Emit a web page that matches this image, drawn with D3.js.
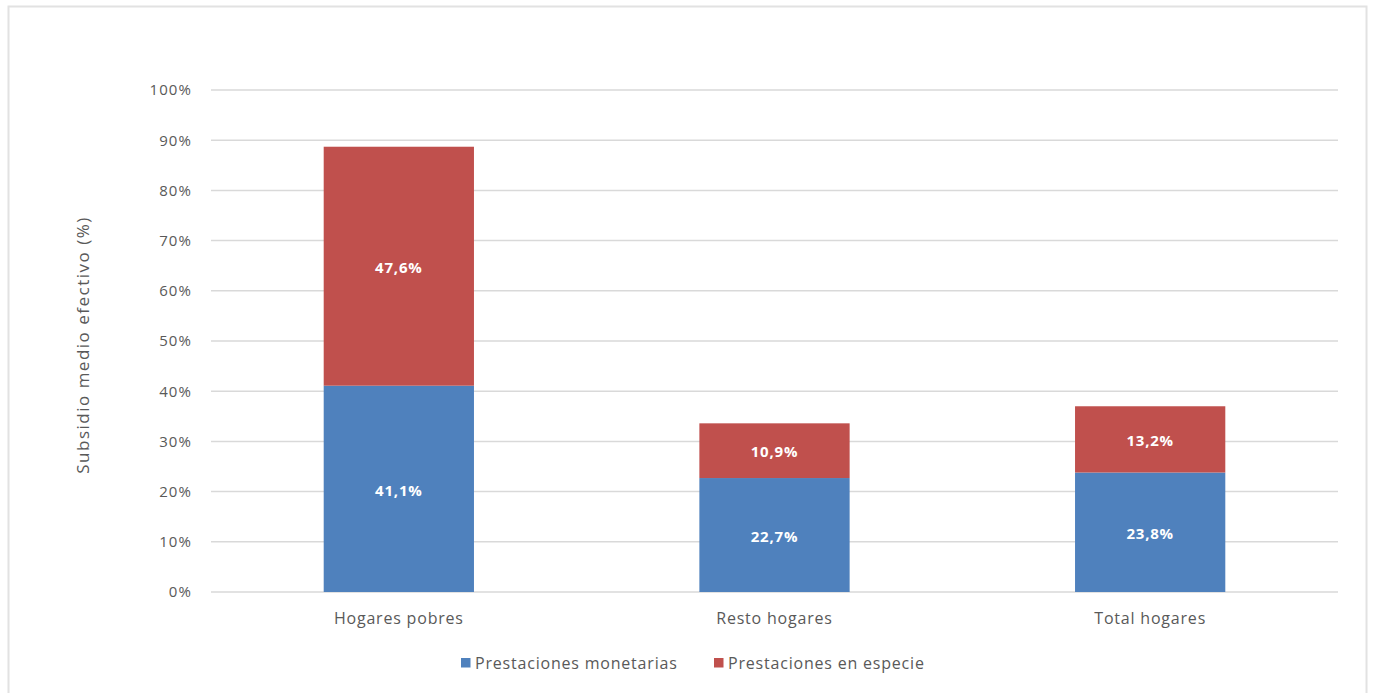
<!DOCTYPE html>
<html>
<head>
<meta charset="utf-8">
<script src="https://cdn.jsdelivr.net/npm/d3@7"></script>
<style>
  html, body { margin: 0; padding: 0; background: #ffffff; }
  svg { display: block; }
  text { font-family: "Open Sans", "Noto Sans", sans-serif; }
</style>
</head>
<body>
<svg id="chart" width="1375" height="693"></svg>
<script>
// Effective average subsidy by household group
const categories = ["Hogares pobres", "Resto hogares", "Total hogares"];
const seriesNames = ["Prestaciones monetarias", "Prestaciones en especie"];
const monetarias = [41.1, 22.7, 23.8];
const especie = [47.6, 10.9, 13.2];
const yTicks = [0, 10, 20, 30, 40, 50, 60, 70, 80, 90, 100];
const colors = ["#4F81BD", "#C0504D"];

const svg = d3.select("#chart");

// outer frame
svg.append("rect")
  .attr("x", 8.5).attr("y", 6.5)
  .attr("width", 1358).attr("height", 700)
  .attr("fill", "#ffffff")
  .attr("stroke", "#e2e2e2").attr("stroke-width", 2);

const plot = { left: 211, right: 1338, top: 90, bottom: 592 };

const x = d3.scaleBand()
  .domain(categories)
  .range([plot.left, plot.right])
  .paddingInner(0.6).paddingOuter(0.3);

const y = d3.scaleLinear()
  .domain([0, 100])
  .range([plot.bottom, plot.top]);

// gridlines
svg.append("g")
  .selectAll("line")
  .data(yTicks)
  .join("line")
  .attr("x1", plot.left).attr("x2", plot.right)
  .attr("y1", d => y(d)).attr("y2", d => y(d))
  .attr("stroke", "#d9d9d9").attr("stroke-width", 1.5);

// y axis labels
const yAxis = d3.axisLeft(y).tickValues(yTicks).tickSize(0).tickPadding(19)
  .tickFormat(d => d + "%");
svg.append("g")
  .attr("transform", `translate(${plot.left},0)`)
  .call(yAxis)
  .call(g => g.select(".domain").remove())
  .selectAll("text")
  .attr("font-size", 15)
  .attr("letter-spacing", 1.1)
  .attr("fill", "#595959")
  .style("font-family", "'Open Sans', sans-serif");

// stacked data
const rows = categories.map((c, i) => ({ cat: c, m: monetarias[i], e: especie[i] }));
const stack = d3.stack().keys(["m", "e"]);
const layers = stack(rows);

const bars = svg.append("g");
layers.forEach((layer, li) => {
  bars.selectAll(null)
    .data(layer)
    .join("rect")
    .attr("x", d => x(d.data.cat))
    .attr("width", x.bandwidth())
    .attr("y", d => y(d[1]))
    .attr("height", d => y(d[0]) - y(d[1]))
    .attr("fill", colors[li]);

  bars.selectAll(null)
    .data(layer)
    .join("text")
    .attr("x", d => x(d.data.cat) + x.bandwidth() / 2)
    .attr("y", d => (y(d[0]) + y(d[1])) / 2)
    .attr("dy", "0.45em")
    .attr("text-anchor", "middle")
    .attr("fill", "#ffffff")
    .attr("font-size", 15)
    .attr("letter-spacing", 0.8)
    .attr("font-weight", "bold")
    .text(d => (d[1] - d[0]).toFixed(1).replace(".", ",") + "%");
});

// x axis labels
const xAxis = d3.axisBottom(x).tickSize(0).tickPadding(21);
svg.append("g")
  .attr("transform", `translate(0,${plot.bottom})`)
  .call(xAxis)
  .call(g => g.select(".domain").remove())
  .selectAll("text")
  .attr("font-size", 16)
  .attr("letter-spacing", 0.8)
  .attr("fill", "#595959")
  .style("font-family", "'Open Sans', sans-serif");

// y axis title
svg.append("text")
  .attr("transform", `translate(89,345) rotate(-90)`)
  .attr("text-anchor", "middle")
  .attr("font-size", 17)
  .attr("letter-spacing", 1.5)
  .attr("fill", "#595959")
  .text("Subsidio medio efectivo (%)");

// legend
const legendX = [461, 714];
const legend = svg.append("g");
seriesNames.forEach((name, i) => {
  legend.append("rect")
    .attr("x", legendX[i]).attr("y", 658)
    .attr("width", 9.5).attr("height", 9.5)
    .attr("fill", colors[i]);
  legend.append("text")
    .attr("x", legendX[i] + 14).attr("y", 663)
    .attr("dy", "0.35em")
    .attr("font-size", 16)
    .attr("letter-spacing", 0.8)
    .attr("fill", "#595959")
    .text(name);
});
</script>
</body>
</html>
